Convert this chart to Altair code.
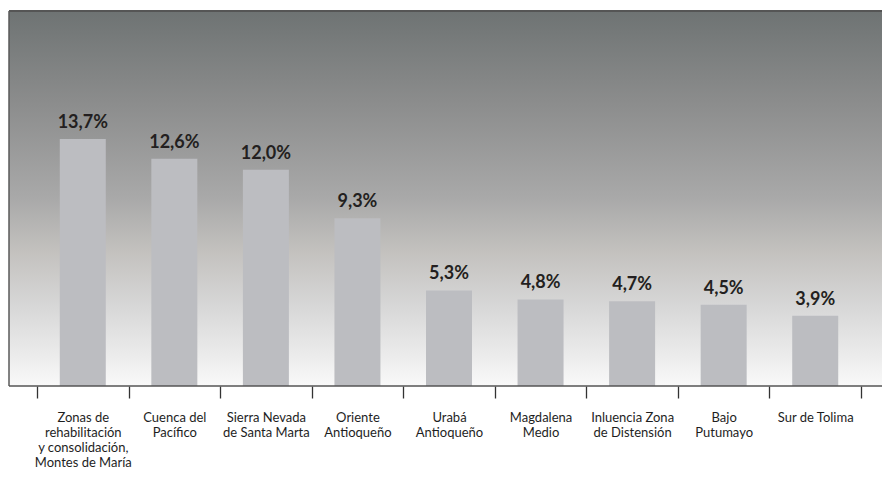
import altair as alt
import pandas as pd

# Regions and their share (%)
regions = [
    "Zonas de|rehabilitación|y consolidación,|Montes de María",
    "Cuenca del|Pacífico",
    "Sierra Nevada|de Santa Marta",
    "Oriente|Antioqueño",
    "Urabá|Antioqueño",
    "Magdalena|Medio",
    "Inluencia Zona|de Distensión",
    "Bajo|Putumayo",
    "Sur de Tolima",
]
shares = [13.7, 12.6, 12.0, 9.3, 5.3, 4.8, 4.7, 4.5, 3.9]

df = pd.DataFrame({"region": regions, "share": shares})

W, H = 824, 375
LEFT_EXT, RIGHT_EXT = 28, 21
FONT = "Lato"

gradient = alt.LinearGradient(
    gradient="linear",
    x1=0, x2=0, y1=0, y2=1,
    stops=[
        alt.GradientStop(offset=0.0, color="#6e7373"),
        alt.GradientStop(offset=0.24, color="#8b8c8c"),
        alt.GradientStop(offset=0.50, color="#a9a9a9"),
        alt.GradientStop(offset=0.64, color="#c3c1be"),
        alt.GradientStop(offset=0.78, color="#d6d6d6"),
        alt.GradientStop(offset=0.91, color="#eaeaea"),
        alt.GradientStop(offset=1.0, color="#f9f9f9"),
    ],
)

one = alt.Data(values=[{}])

background = alt.Chart(one).mark_rect(color=gradient).encode(
    x=alt.value(-LEFT_EXT), x2=alt.value(W + RIGHT_EXT),
    y=alt.value(0), y2=alt.value(H),
)

top_border = alt.Chart(one).mark_rule(color="#555555", strokeWidth=2).encode(
    x=alt.value(-LEFT_EXT), x2=alt.value(W + RIGHT_EXT), y=alt.value(0)
)
left_border = alt.Chart(one).mark_rule(color="#5a5a5a", strokeWidth=1.5).encode(
    x=alt.value(-LEFT_EXT), y=alt.value(0), y2=alt.value(H)
)
base_line = alt.Chart(one).mark_rule(color="#555555", strokeWidth=1.5).encode(
    x=alt.value(-LEFT_EXT), x2=alt.value(W + RIGHT_EXT), y=alt.value(H)
)

x_enc = alt.X(
    "region:N",
    sort=None,
    title=None,
    scale=alt.Scale(paddingInner=0, paddingOuter=0),
    axis=alt.Axis(
        domain=False,
        grid=False,
        tickBand="extent",
        tickSize=12,
        tickColor="#333333",
        tickWidth=1.3,
        labelAngle=0,
        labelBaseline="top",
        labelPadding=13,
        labelFont=FONT,
        labelFontSize=13,
        labelColor="#1e1e1e",
        labelLineHeight=15,
        labelExpr="split(datum.label, '|')",
    ),
)
y_enc = alt.Y(
    "share:Q",
    title=None,
    scale=alt.Scale(domain=[0, 20.8], nice=False),
    axis=None,
)

bars = alt.Chart(df).mark_bar(color="#bcbdc1", width=46).encode(x=x_enc, y=y_enc)

labels = alt.Chart(df).transform_calculate(
    txt="replace(format(datum.share, '.1f'), '.', ',') + '%'"
).mark_text(
    baseline="alphabetic", dy=-11, font=FONT, fontSize=18, fontWeight="bold",
    color="#231f20",
).encode(x=x_enc, y=y_enc, text="txt:N")

chart = alt.layer(
    background, top_border, left_border, bars, labels, base_line
).properties(
    width=W, height=H,
    autosize=alt.AutoSizeParams(type="none"),
    padding={"left": 37, "top": 11, "right": 21, "bottom": 93},
).configure_view(stroke=None)

chart.save("out.html", embed_options={"renderer": "svg", "actions": False})
